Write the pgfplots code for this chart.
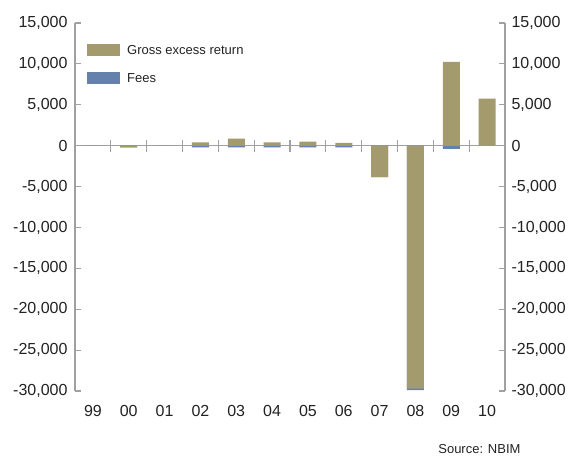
\documentclass[border=0pt]{standalone}
\usepackage{pgfplots}
\usepackage{pgfplotstable}
\pgfplotsset{compat=1.18}
\usepackage{fontspec}
\setmainfont{Liberation Sans}

\definecolor{grossc}{HTML}{A39A6E}
\definecolor{feesc}{HTML}{6481AC}
\definecolor{axgray}{HTML}{A0A0A0}
\definecolor{txt}{HTML}{222222}

% Gross excess return and fees, NOK million, by year (99 ... 10)
\pgfplotstableread{
x  gross   fees
0  0       0
1  -200    0
2  0       0
3  400     -200
4  850     -200
5  400     -200
6  500     -200
7  350     -200
8  -3850   0
9  -29700  -200
10 10250   -400
11 5750    0
}\returns

\begin{document}
\begin{tikzpicture}[x=1pt,y=1pt]
\path[use as bounding box] (0,0) rectangle (574,456);

\begin{axis}[
  at={(75pt,65pt)}, anchor=south west,
  scale only axis, width=430pt, height=368pt,
  xmin=-0.5, xmax=11.5, ymin=-30000, ymax=15000,
  clip=false,
  axis y line*=left, axis x line*=middle,
  axis line style={axgray, line width=1.1pt},
  xtick={-0.5,0.5,...,11.5}, xticklabels={},
  xtick style={axgray, line width=1.1pt, /pgfplots/major tick length=12pt, yshift=6pt},
  ytick={-30000,-25000,...,15000},
  ytick style={axgray, line width=1.1pt, /pgfplots/major tick length=6pt},
  ytick align=inside,
  yticklabel style={font=\fontsize{16}{19}\selectfont, text=txt, xshift=-4pt},
  /pgf/number format/.cd, 1000 sep={,}, assume math mode=true, /pgfplots/.cd,
  scaled y ticks=false,
  ybar, bar width=17pt,
  reverse legend,
  legend cell align=left,
  legend image code/.code={\fill[#1] (0pt,-6pt) rectangle (33pt,6pt);},
  legend style={at={(0,1)}, anchor=north west, xshift=12pt, yshift=-21pt,
    draw=none, fill=none, inner sep=0pt, row sep=16pt,
    font=\fontsize{13}{15}\selectfont, text=txt,
    nodes={inner sep=0pt, text depth=0pt},
    /tikz/every odd column/.append style={column sep=7pt}},
]
% fees: drawn first; below a negative return they sit under its end
\addplot[fill=feesc, draw=none, bar shift=0pt]
  table[x=x, y expr={\thisrow{gross}<0 ? \thisrow{gross}+\thisrow{fees} : \thisrow{fees}}] {\returns};
\addlegendentry{Fees}
\addplot[fill=grossc, draw=none, bar shift=0pt]
  table[x=x, y=gross] {\returns};
\addlegendentry{Gross excess return}
\end{axis}

\begin{axis}[
  at={(75pt,65pt)}, anchor=south west,
  scale only axis, width=430pt, height=368pt,
  xmin=-0.5, xmax=11.5, ymin=-30000, ymax=15000,
  axis y line*=right, axis x line*=bottom,
  x axis line style={draw=none},
  y axis line style={axgray, line width=1.1pt},
  xtick={0,...,11},
  xticklabels={99,00,01,02,03,04,05,06,07,08,09,10},
  xtick style={draw=none},
  xticklabel style={font=\fontsize{16}{19}\selectfont, text=txt, yshift=-11pt},
  ytick={-30000,-25000,...,15000},
  ytick style={axgray, line width=1.1pt, /pgfplots/major tick length=6pt},
  ytick align=inside,
  yticklabel style={font=\fontsize{16}{19}\selectfont, text=txt, xshift=3pt},
  /pgf/number format/.cd, 1000 sep={,}, assume math mode=true, /pgfplots/.cd,
  scaled y ticks=false,
]
\end{axis}

\node[anchor=base east, font=\fontsize{13}{15}\selectfont, text=txt] at (524,2) {Source: NBIM};
\end{tikzpicture}
\end{document}
